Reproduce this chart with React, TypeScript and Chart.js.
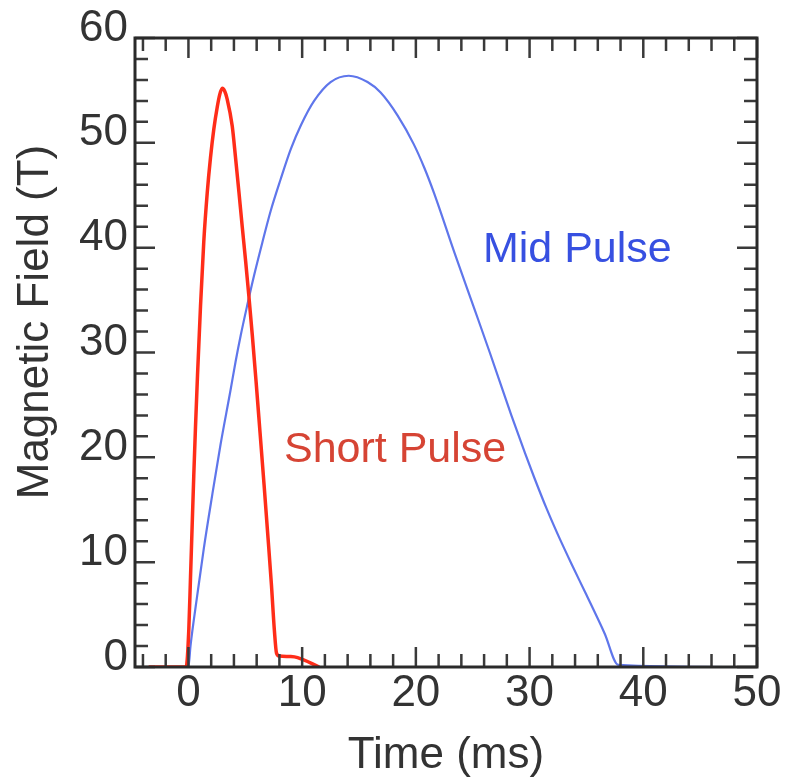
import { useEffect, useRef } from "react";
import { Chart, registerables } from "chart.js";

Chart.register(...registerables);

const shortPulseX = [-3.5, -0.2, 0.03, 0.18, 0.33, 0.47, 0.62, 0.8, 1.06, 1.35, 1.65, 1.94, 2.23, 2.53, 2.75, 2.97, 3.2, 3.4, 3.85, 4.14, 4.44, 4.73, 5.03, 5.32, 5.62, 5.95, 6.3, 6.65, 7.0, 7.3, 7.55, 7.75, 8.0, 9.0, 9.6, 11.5];
const shortPulseY = [0, 0, 3.5, 8.5, 13.6, 18.3, 22.9, 27.9, 34.4, 40.6, 45.2, 48.6, 51.3, 53.4, 54.6, 55.2, 54.9, 54.2, 51.6, 48.6, 45.3, 42.0, 38.7, 35.3, 31.6, 27.2, 22.3, 17.4, 12.3, 7.8, 3.6, 1.3, 1.05, 1.0, 0.9, 0];

const midPulseX = [-3.4, 0, 0.18, 0.77, 1.35, 2.09, 2.82, 3.7, 4.14, 4.59, 5.17, 5.76, 6.5, 7.23, 8.1, 9.0, 9.9, 11.05, 12.5, 14.1, 15.75, 16.9, 18.4, 19.8, 20.75, 21.6, 23.4, 25.2, 26.5, 28.4, 29.6, 30.4, 31.5, 32.5, 33.7, 34.9, 36.6, 37.8, 47.5];
const midPulseY = [0, 0, 2.0, 6.8, 11.3, 16.4, 21.2, 26.4, 29.1, 31.6, 34.5, 37.3, 40.5, 43.5, 46.5, 49.4, 51.7, 54.0, 55.8, 56.4, 55.8, 54.8, 52.6, 49.9, 47.6, 45.2, 39.5, 34.0, 30.0, 24.0, 20.4, 18.1, 15.1, 12.6, 9.8, 7.1, 3.2, 0.2, 0];

const seriesNames = ["Short Pulse", "Mid Pulse"];
const seriesColors = ["rgb(255, 45, 25)", "rgb(95, 118, 235)"];
const labelColors = ["rgb(214, 68, 52)", "rgb(55, 80, 225)"];
// label anchor (left, baseline) in data coordinates
const labelX = [8.4, 25.9];
const labelY = [19.6, 38.6];

const xTickValues = [0, 10, 20, 30, 40, 50];
const yTickValues = [0, 10, 20, 30, 40, 50, 60];
const xMin = -4.7;
const xMax = 50;
const yMin = 0;
const yMax = 60;
const minorStep = 2;
const majorStep = 10;

const xTitle = "Time (ms)";
const yTitle = "Magnetic Field (T)";

const FONT = "'Liberation Sans', Arial, Helvetica, sans-serif";
const TEXT = "#333333";

const framePlugin = {
  id: "frame",
  afterDatasetsDraw(chart: any) {
    const ctx = chart.ctx;
    const { left, right, top, bottom } = chart.chartArea;
    const xs = chart.scales.x;
    const ys = chart.scales.y;
    ctx.save();
    ctx.strokeStyle = "#3a3a3a";
    ctx.lineWidth = 2.5;
    ctx.beginPath();
    for (let v = Math.ceil(xMin / minorStep) * minorStep; v <= xMax; v += minorStep) {
      const px = xs.getPixelForValue(v);
      const len = v % majorStep === 0 ? 20 : 13;
      ctx.moveTo(px, bottom);
      ctx.lineTo(px, bottom - len);
      ctx.moveTo(px, top);
      ctx.lineTo(px, top + len);
    }
    for (let v = yMin; v <= yMax; v += minorStep) {
      const py = ys.getPixelForValue(v);
      const len = v % majorStep === 0 ? 20 : 13;
      ctx.moveTo(left, py);
      ctx.lineTo(left + len, py);
      ctx.moveTo(right, py);
      ctx.lineTo(right - len, py);
    }
    ctx.stroke();
    ctx.lineWidth = 3;
    ctx.strokeStyle = "#2a2a2a";
    ctx.strokeRect(left, top, right - left, bottom - top);

    // series labels
    ctx.font = `43px ${FONT}`;
    ctx.textAlign = "left";
    ctx.textBaseline = "alphabetic";
    for (let i = 0; i < seriesNames.length; i++) {
      ctx.fillStyle = labelColors[i];
      ctx.fillText(seriesNames[i], xs.getPixelForValue(labelX[i]), ys.getPixelForValue(labelY[i]));
    }

    // y axis title
    ctx.font = `44px ${FONT}`;
    ctx.fillStyle = TEXT;
    ctx.translate(48, 322);
    ctx.rotate(-Math.PI / 2);
    ctx.textAlign = "center";
    ctx.fillText(yTitle, 0, 0);
    ctx.restore();
  },
};

export default function App() {
  const ref = useRef<HTMLCanvasElement | null>(null);
  useEffect(() => {
    if (!ref.current) return;
    const chart = new Chart(ref.current, {
      type: "line",
      data: {
        datasets: [
          {
            label: seriesNames[0],
            data: shortPulseX.map((x, i) => ({ x, y: shortPulseY[i] })),
            borderColor: seriesColors[0],
            borderWidth: 3.5,
            pointRadius: 0,
            cubicInterpolationMode: "monotone",
            fill: false,
          },
          {
            label: seriesNames[1],
            data: midPulseX.map((x, i) => ({ x, y: midPulseY[i] })),
            borderColor: seriesColors[1],
            borderWidth: 2.2,
            pointRadius: 0,
            cubicInterpolationMode: "monotone",
            fill: false,
          },
        ],
      },
      options: {
        animation: false,
        responsive: false,
        layout: { padding: { left: 0, top: 38, right: 34, bottom: 0 } },
        plugins: {
          legend: { display: false },
          tooltip: { enabled: false },
        },
        scales: {
          x: {
            type: "linear",
            min: xMin,
            max: xMax,
            grid: { display: false, drawTicks: false },
            border: { display: false },
            afterBuildTicks: (s: any) => {
              s.ticks = xTickValues.map((v) => ({ value: v }));
            },
            afterFit: (s: any) => {
              s.height = 117;
            },
            ticks: {
              autoSkip: false,
              maxRotation: 0,
              padding: 5,
              color: TEXT,
              font: { family: FONT, size: 44, lineHeight: 1 },
            },
            title: {
              display: true,
              text: xTitle,
              color: TEXT,
              font: { family: FONT, size: 44, lineHeight: 1 },
              padding: { top: 0, bottom: 6 },
            },
          },
          y: {
            type: "linear",
            min: yMin,
            max: yMax,
            grid: { display: false, drawTicks: false },
            border: { display: false },
            afterBuildTicks: (s: any) => {
              s.ticks = yTickValues.map((v) => ({ value: v }));
            },
            afterFit: (s: any) => {
              s.width = 135;
            },
            ticks: {
              autoSkip: false,
              padding: 7,
              color: TEXT,
              font: { family: FONT, size: 44, lineHeight: "19px" },
              callback: (v: any) => [String(v), ""],
            },
          },
        },
      },
      plugins: [framePlugin],
    });
    return () => chart.destroy();
  }, []);
  return (
    <canvas
      ref={ref}
      width={791}
      height={784}
      style={{ position: "absolute", left: 0, top: 0, width: 791, height: 784 }}
    />
  );
}
